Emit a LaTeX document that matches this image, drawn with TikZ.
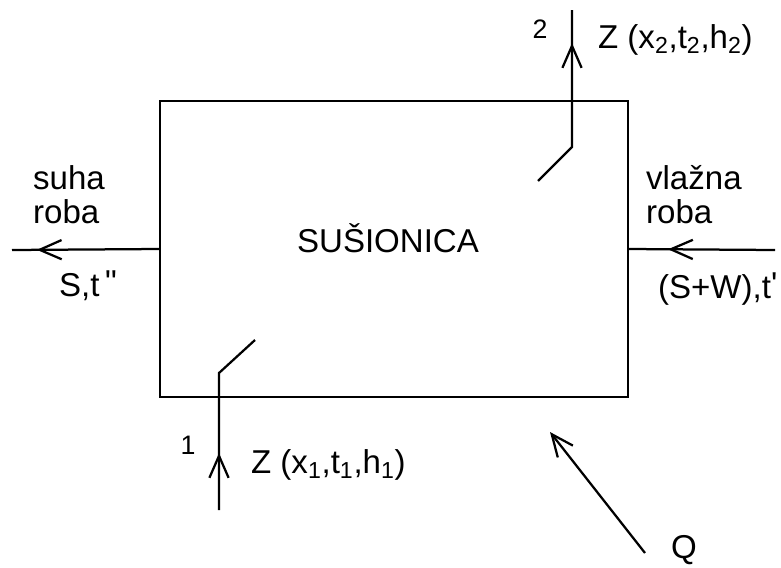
\documentclass[tikz,border=0pt]{standalone}
\usepackage{fontspec}
\setmainfont{Liberation Sans}
\usetikzlibrary{arrows.meta, decorations.markings}

\begin{document}
\begin{tikzpicture}[x=0.025cm, y=-0.025cm, line width=1.6pt,
    >={Straight Barb[length=0.55cm, width=0.48cm]},
    lbl/.style={inner sep=0pt, font=\fontsize{23.5}{24.2}\selectfont},
    numlbl/.style={inner sep=0pt, font=\fontsize{19}{21}\selectfont},
    flow/.style={postaction={decorate}, decoration={markings, mark=at position #1 with {\arrow{>}}}}]
\useasboundingbox (0,0) rectangle (781,567);

\node[draw, minimum width=11.7cm, minimum height=7.4cm] (dryer) at (394,249) {};
\node[lbl, anchor=base] (dryerName) at (388,252) {SUŠIONICA};

\coordinate (dryOut) at (12,250);
\coordinate (wetIn) at (775,250);
\coordinate (air1In) at (219,510);
\coordinate (air1Bend) at (219,373);
\coordinate (air1End) at (255,340);
\coordinate (air2Start) at (538,181);
\coordinate (air2Bend) at (572,147);
\coordinate (air2Out) at (572,10);
\coordinate (heatIn) at (645,553);
\coordinate (heatEnd) at (550,432);

% streams of goods
\draw[flow=3.05cm] (dryer.west) -- (dryOut);
\draw[flow=2.675cm] (wetIn) -- (dryer.east);
% air in and out
\draw[flow=1.425cm] (air1In) -- (air1Bend) -- (air1End);
\draw[flow=3.8cm] (air2Start) -- (air2Bend) -- (air2Out);
% heat
\draw[->] (heatIn) -- (heatEnd);

\node[lbl, anchor=north west, align=left] (dryLbl) at (32,164) {suha\\roba};
\node[lbl, anchor=base west] (dryState) at (58,296) {S,t\,\raisebox{2pt}{\textquotedbl}};
\node[lbl, anchor=north west, align=left] (wetLbl) at (645,164) {vlažna\\roba};
\node[lbl, anchor=base west] (wetState) at (657,298) {(S+W),t\raisebox{2pt}{\textquotesingle}};
\node[lbl, anchor=base west] (air1Lbl) at (250,473) {Z (x\textsubscript{1},t\textsubscript{1},h\textsubscript{1})};
\node[lbl, anchor=base west] (air2Lbl) at (597,48) {Z (x\textsubscript{2},t\textsubscript{2},h\textsubscript{2})};
\node[numlbl] (air1Num) at (188,445) {1};
\node[numlbl] (air2Num) at (540,29) {2};
\node[lbl, anchor=base west] (heatLbl) at (670,558) {Q};

\end{tikzpicture}
\end{document}
